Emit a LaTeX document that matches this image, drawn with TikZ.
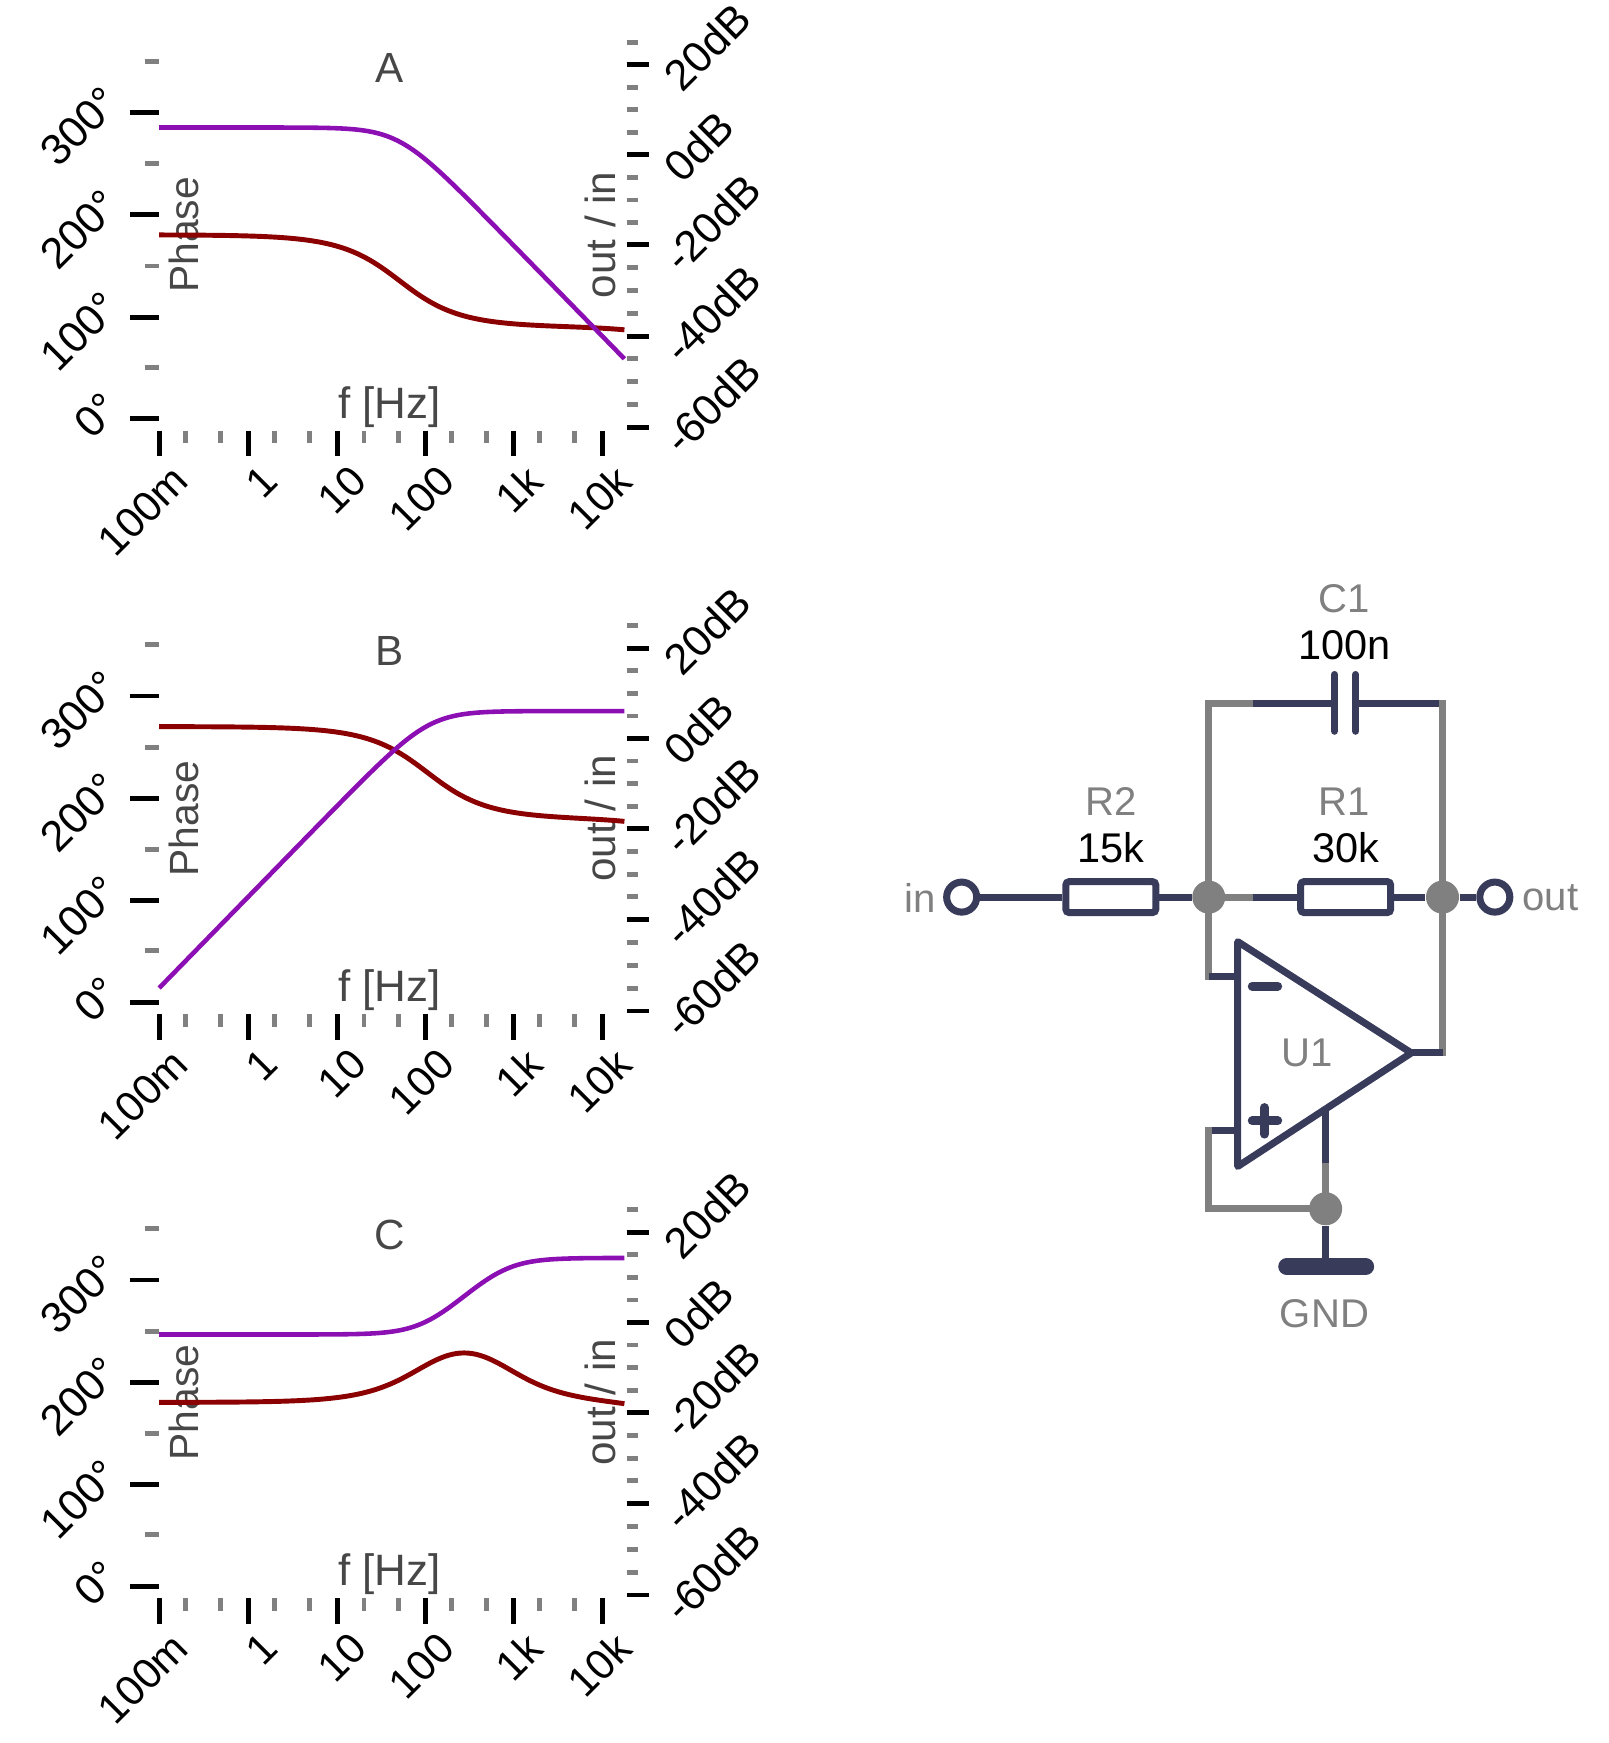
\documentclass[tikz,border=0pt]{standalone}
\usepackage{fontspec}
\setmainfont{Liberation Sans}
\definecolor{netdark}{HTML}{383C5A}
\definecolor{netgray}{HTML}{808080}
\definecolor{gaincol}{HTML}{8C0FB4}
\definecolor{phasecol}{HTML}{8B0000}
\tikzset{
  majortick/.style={line width=1.4pt, black},
  minortick/.style={line width=1.4pt, netgray},
  gaincurve/.style={line width=1.3pt, gaincol, domain=143:561, samples=120, smooth},
  phasecurve/.style={line width=1.4pt, phasecol, domain=143:561, samples=120, smooth},
  ticklabel/.style={rotate=45, inner sep=0pt, font=\fontsize{12.3}{15}\selectfont},
  axislabel/.style={text=black!72, inner sep=0pt, font=\fontsize{12}{14}\selectfont},
  wiredark/.style={line width=2pt, netdark},
  wiregray/.style={line width=2pt, netgray, line cap=rect},
  resistor/.style={draw=netdark, line width=2pt, fill=white, rounded corners=1pt, minimum width=0.9cm, minimum height=0.31cm, inner sep=0pt},
  junction/.style={circle, fill=netgray, minimum size=0.33cm, inner sep=0pt},
  terminal/.style={circle, draw=netdark, line width=2pt, fill=white, minimum size=0.3cm, inner sep=0pt},
  partname/.style={text=netgray, inner sep=0pt, font=\fontsize{11.4}{14}\selectfont},
  partvalue/.style={text=black, inner sep=0pt, font=\fontsize{11.8}{14}\selectfont},
  declare function={
    lp(\u) = 10*log10(1 + pow(10, 2*min(\u, 1.5))) + 20*max(\u - 1.5, 0);
    lag(\v) = atan(pow(10, (\v - 660)/79.6));
    gainy(\d) = 139 - 4.075*\d;
    phasey(\p) = 376 - 0.9167*\p;
  }
}
\begin{document}
\begin{tikzpicture}[x=0.01113cm, y=-0.01113cm]
  \useasboundingbox (0, 0) rectangle (1445, 1566);
  % the three plots share their axes
  \foreach \panel/\offs in {A/0, B/524.3, C/1049} {
    \begin{scope}[shift={(0, \offs)}]
      \node[axislabel] (title\panel) at (350, 61) {\panel};
      \node[axislabel, font=\fontsize{12.5}{14}\selectfont] (freq\panel) at (350, 365.5) {f [Hz]};
      \node[axislabel, font=\fontsize{11.6}{14}\selectfont, rotate=90] (phase\panel) at (165, 211) {Phase};
      \node[axislabel, rotate=90] (ratio\panel) at (539, 211) {out / in};
      \foreach \y/\txt in {101/300, 193/200, 285/100, 376/0} {
        \draw[majortick] (117, \y) -- (143, \y);
        \node[ticklabel, anchor=east] (deg\panel\txt) at (100, \y - 16) {\txt°};
      }
      \foreach \y in {55, 147, 239, 330}
        \draw[minortick] (130, \y) -- (143, \y);
      \foreach \x/\txt in {143/100m, 223/1, 303/10, 382/100, 461/1k, 541/10k} {
        \draw[majortick] (\x, 387) -- (\x, 410);
        \node[ticklabel, font=\fontsize{12}{15}\selectfont, anchor=east] (freq\panel\txt) at (\x + 19.5, 425) {\txt};
      }
      \foreach \y/\txt in {58/20, 139/0, 220/-20, 302/-40, 384/-60} {
        \draw[majortick] (563, \y) -- (583, \y);
        \node[ticklabel, anchor=west] (gain\panel\txt) at (603, \y + 17) {\txt dB};
      }
      \foreach \y in {38, 78.4, 98.7, 119, 159.4, 179.7, 200, 240.5, 261, 281.5, 322.5, 343, 363.5}
        \draw[minortick] (563, \y) -- (573, \y);
      \foreach \x in {167, 198, 247, 278, 327, 358, 406, 437, 485, 516}
        \draw[minortick] (\x, 387) -- (\x, 398);
    \end{scope}
  }
  % A
  \draw[phasecurve] plot (\x, {phasey(180 - atan(pow(10, (\x - 359)/79.6)) - lag(\x))});
  \draw[gaincurve] plot (\x, {gainy(6 - lp((\x - 358)/79.6))});
  % B
  \begin{scope}[shift={(0, 524.3)}]
    \draw[phasecurve] plot (\x, {phasey(180 + atan(pow(10, (384 - \x)/79.6)) - lag(\x))});
    \draw[gaincurve] plot (\x, {gainy(6 - lp((386 - \x)/79.6))});
  \end{scope}
  % C
  \begin{scope}[shift={(0, 1049)}]
    \draw[phasecurve] plot (\x, {phasey(180 + atan(pow(10, (\x - 383.4)/79.6)) - atan(pow(10, (\x - 450.6)/79.6)) - lag(\x))});
    \draw[gaincurve] plot (\x, {gainy(-2.7 + lp((\x - 383.4)/79.6) - lp((\x - 450.6)/79.6))});
  \end{scope}
  % circuit
  \begin{scope}[shift={(-1, -1)}]
    \node[terminal] (in) at (865, 807) {};
    \node[resistor] (rtwo) at (999, 807) {};
    \node[junction] (jleft) at (1087, 807) {};
    \node[resistor] (rone) at (1210, 807) {};
    \node[junction] (jright) at (1297, 807) {};
    \node[terminal] (out) at (1344, 807) {};
    \node[junction] (jgnd) at (1192, 1087) {};
    \coordinate (topl) at (1087, 633);
    \coordinate (topr) at (1297, 633);
    \coordinate (midstub) at (1127, 807);
    \coordinate (capstub) at (1127, 633);
    \coordinate (plateone) at (1200, 633);
    \coordinate (platetwo) at (1219, 633);
    \coordinate (apexa) at (1113, 847);
    \coordinate (apexb) at (1113, 1049);
    \coordinate (apexc) at (1269, 947);
    \coordinate (minusin) at (1113, 878);
    \coordinate (minusbend) at (1087, 878);
    \coordinate (plusin) at (1113, 1017);
    \coordinate (plusbend) at (1087, 1017);
    \coordinate (lowbend) at (1087, 1087);
    \coordinate (outbend) at (1297, 947);
    \coordinate (gndtop) at (1192, 998);
    \coordinate (gndstub) at (1192, 1049);
    \coordinate (gndbar) at (1192, 1139);
    \draw[wiredark] (in) -- (rtwo);
    \draw[wiredark] (rtwo) -- (jleft);
    \draw[wiregray] (jleft) -- (midstub);
    \draw[wiredark] (midstub) -- (rone);
    \draw[wiredark] (rone) -- (jright);
    \draw[wiredark] (jright) -- (out);
    \draw[wiregray] (jleft) -- (topl) -- (capstub);
    \draw[wiredark] (capstub) -- (plateone);
    \draw[wiredark] (platetwo) -- (topr);
    \draw[wiregray] (topr) -- (jright);
    \draw[wiregray] (jleft) -- (minusbend);
    \draw[wiredark] (minusbend) -- (minusin);
    \draw[wiregray] (jright) -- (outbend);
    \draw[wiredark] (apexc) -- (outbend);
    \draw[wiredark] (plusin) -- (plusbend);
    \draw[wiregray] (plusbend) -- (lowbend) -- (jgnd);
    \draw[wiredark] (gndtop) -- (gndstub);
    \draw[wiregray] (gndstub) -- (jgnd);
    \draw[wiredark] (jgnd) -- (gndbar);
    \draw[wiredark, line width=4.8pt, line cap=round] (1157, 1139) -- (1228, 1139);
    \draw[wiredark, line cap=round] (1200, 607) -- (1200, 658);
    \draw[wiredark, line cap=round] (1219, 607) -- (1219, 658);
    \draw[wiredark, line join=round] (apexa) -- (apexb) -- (apexc) -- cycle;
    \draw[wiredark, line width=2.5pt, line cap=round] (1126, 887) -- (1149, 887);
    \draw[wiredark, line width=2.5pt, line cap=round] (1126, 1008) -- (1149, 1008);
    \draw[wiredark, line width=2.5pt, line cap=round] (1137, 996) -- (1137, 1020);
  \end{scope}
  \node[partname] (cname) at (1208, 538) {C1};
  \node[partvalue] (cvalue) at (1208, 579.5) {100n};
  \node[partname] (rtwoname) at (998, 720) {R2};
  \node[partvalue] (rtwovalue) at (998, 761.5) {15k};
  \node[partname] (ronename) at (1208, 720) {R1};
  \node[partvalue] (ronevalue) at (1209, 761.5) {30k};
  \node[partname] (inname) at (827, 807) {in};
  \node[partname] (outname) at (1393, 807) {out};
  \node[partname] (opname) at (1174, 946) {U1};
  \node[partname] (gndname) at (1190, 1180) {GND};
\end{tikzpicture}
\end{document}
